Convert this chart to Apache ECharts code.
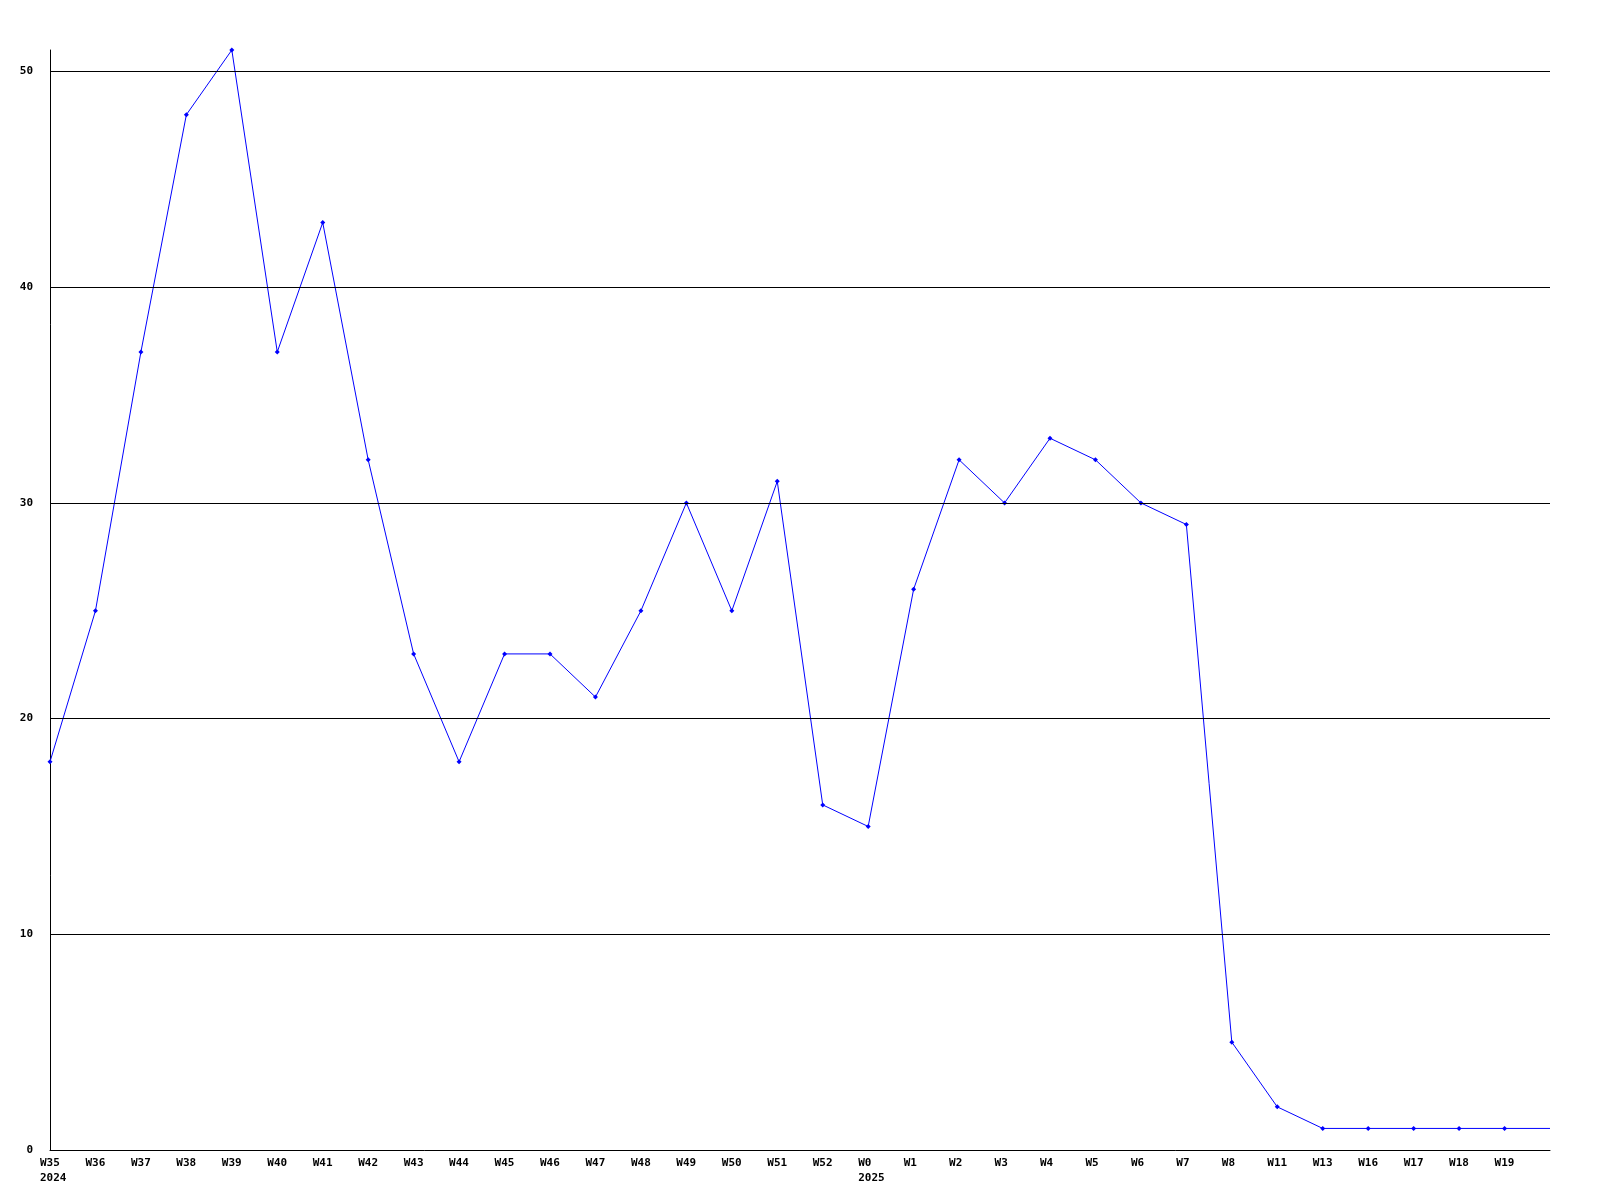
<!DOCTYPE html>
<html>
<head>
<meta charset="utf-8">
<script src="https://cdn.jsdelivr.net/npm/echarts@6/dist/echarts.min.js"></script>
<style>html,body{margin:0;padding:0;background:#fff}#c{width:1600px;height:1200px}</style>
</head>
<body>
<div id="c"></div>
<script>
const weeks = ['W35','W36','W37','W38','W39','W40','W41','W42','W43','W44','W45','W46','W47','W48','W49','W50','W51','W52','W0','W1','W2','W3','W4','W5','W6','W7','W8','W11','W13','W16','W17','W18','W19',''];
const years = {'W35':'2024','W0':'2025'};
const values = [18,25,37,48,51,37,43,32,23,18,23,23,21,25,30,25,31,16,15,26,32,30,33,32,30,29,5,2,1,1,1,1,1,1];
const yTicks = [10,20,30,40,50];

const font = '"DejaVu Sans Mono", monospace';
const data = values.map((v,i) => i === values.length-1 ? {value:v, symbol:'none'} : v);

const chart = echarts.init(document.getElementById('c'));
chart.setOption({
  animation:false,
  backgroundColor:'#fff',
  grid:{left:50,right:50,top:50,bottom:50,containLabel:false},
  xAxis:{
    type:'category', data:weeks, boundaryGap:false,
    axisLine:{lineStyle:{color:'#000',width:1}},
    axisTick:{show:false},
    axisLabel:{interval:0, margin:6, align:'left', padding:[0,0,0,-10],
      color:'#000', fontFamily:font, fontWeight:'bold', fontSize:11, lineHeight:15,
      formatter:(v)=> years[v] ? v+'\n'+years[v] : v},
    splitLine:{show:false}
  },
  yAxis:{
    type:'value', min:0, max:51, interval:10,
    axisLine:{show:true, lineStyle:{color:'#000',width:1}},
    axisTick:{show:false},
    axisLabel:{color:'#000', fontFamily:font, fontWeight:'bold', fontSize:11, margin:17,
      showMaxLabel:false},
    splitLine:{show:false}
  },
  series:[{
    type:'line', data:data, color:'#0000ff',
    lineStyle:{color:'#0000ff',width:1},
    itemStyle:{color:'#0000ff'},
    symbol:'diamond', symbolSize:5, showSymbol:true,
    markLine:{silent:true, symbol:'none', label:{show:false},
      lineStyle:{color:'#000',width:1,type:'solid'},
      data: yTicks.map(t=>({yAxis:t}))},
    z:3
  }]
});
</script>
</body>
</html>
